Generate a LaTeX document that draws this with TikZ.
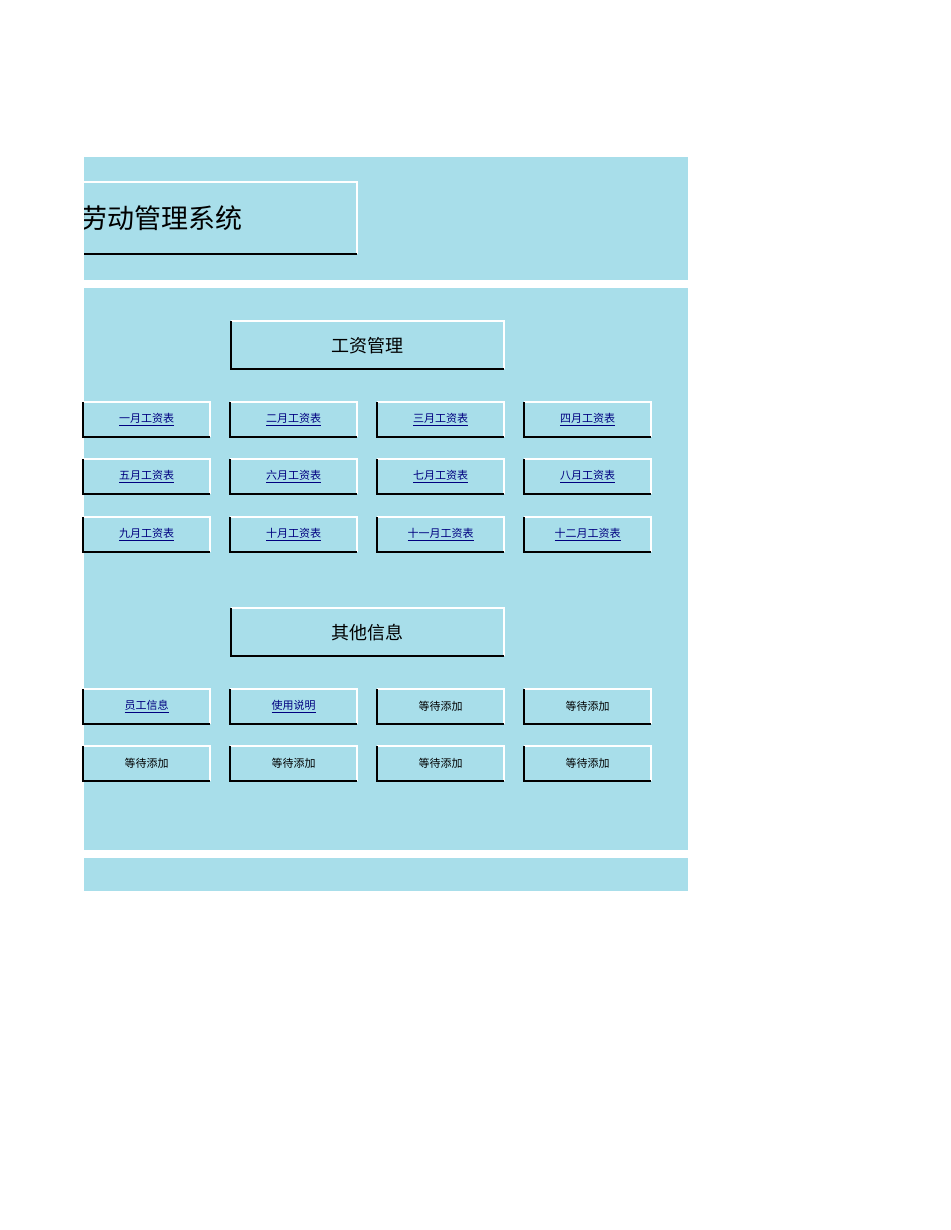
\documentclass[tikz,border=0pt]{standalone}
\usepackage{fontspec}
\setmainfont{Liberation Serif}
\newfontfamily\cjk{Noto Sans CJK SC}
\definecolor{bg}{HTML}{A8DEEA}
\definecolor{lnk}{HTML}{000080}
\begin{document}
\begin{tikzpicture}[x=1pt,y=-1pt,
  btn/.style={minimum width=127pt,minimum height=35pt,inner sep=0pt,anchor=north west,font=\cjk\fontsize{11}{13}\selectfont},
  hdr/.style={minimum width=273pt,minimum height=48pt,inner sep=0pt,anchor=north west,font=\cjk\fontsize{18}{20}\selectfont}]
\useasboundingbox (0,0) rectangle (950,1230);
\fill[white] (0,0) rectangle (950,1230);
\fill[bg] (84,157) rectangle (688,280);
\fill[bg] (84,288) rectangle (688,850);
\fill[bg] (84,858) rectangle (688,891);
\newcommand{\bevel}[1]{%
  \draw[white,line width=2pt] (#1.south east) -- (#1.north east) -- (#1.north west);
  \draw[black,line width=2pt] (#1.north west) -- (#1.south west) -- (#1.south east);}
\begin{scope}
\clip (84,150) rectangle (700,270);
\node[minimum width=300pt,minimum height=72pt,inner sep=0pt,anchor=north west] (title) at (57,182) {};
\draw[white,line width=2pt] (title.south east) -- (title.north east) -- (title.north west);
\draw[black,line width=2pt] (title.south west) -- (title.south east);
\node[anchor=east,font=\cjk\fontsize{27}{30}\selectfont,inner sep=0pt] (tt) at (243,218) {劳动管理系统};
\end{scope}
\node[hdr] (h1) at (231,321) {工资管理}; \bevel{h1}
\node[hdr] (h2) at (231,608) {其他信息}; \bevel{h2}
\newcommand{\lb}[4]{\node[btn,text=lnk] (#1) at (#2,#3) {\underline{#4}}; \bevel{#1}}
\newcommand{\pb}[4]{\node[btn] (#1) at (#2,#3) {#4}; \bevel{#1}}
\lb{a1}{83}{402}{一月工资表}\lb{a2}{230}{402}{二月工资表}\lb{a3}{377}{402}{三月工资表}\lb{a4}{524}{402}{四月工资表}
\lb{b1}{83}{459}{五月工资表}\lb{b2}{230}{459}{六月工资表}\lb{b3}{377}{459}{七月工资表}\lb{b4}{524}{459}{八月工资表}
\lb{c1}{83}{517}{九月工资表}\lb{c2}{230}{517}{十月工资表}\lb{c3}{377}{517}{十一月工资表}\lb{c4}{524}{517}{十二月工资表}
\lb{d1}{83}{689}{员工信息}\lb{d2}{230}{689}{使用说明}\pb{d3}{377}{689}{等待添加}\pb{d4}{524}{689}{等待添加}
\pb{e1}{83}{746}{等待添加}\pb{e2}{230}{746}{等待添加}\pb{e3}{377}{746}{等待添加}\pb{e4}{524}{746}{等待添加}
\end{tikzpicture}
\end{document}
